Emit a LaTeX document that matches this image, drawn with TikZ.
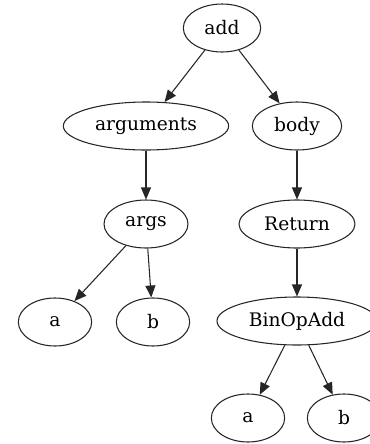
\documentclass[tikz,border=0pt]{standalone}
\usepackage{fontspec}
\setmainfont{DejaVu Serif}
\usetikzlibrary{shapes.geometric,arrows.meta}
\begin{document}
\begin{tikzpicture}[x=0.75pt,y=-0.75pt,
  tnode/.style={ellipse,draw=black!85,line width=0.8pt,inner sep=0pt,
    minimum height=36pt,font=\fontsize{14}{16}\selectfont},
  edge/.style={draw=black!85,line width=0.8pt,
    -{Triangle[length=9pt,width=7.5pt]}}]
\clip (0,0) rectangle (370,444);
\node[tnode,minimum width=58pt] (add) at (222,28) {add};
\node[tnode,minimum width=124pt] (arguments) at (146,126) {arguments};
\node[tnode,minimum width=67pt] (body) at (297,126) {body};
\node[tnode,minimum width=63pt] (args) at (146,224) {args};
\node[tnode,minimum width=87pt] (return) at (297,224) {Return};
\node[tnode,minimum width=55pt] (a1) at (55,322) {a};
\node[tnode,minimum width=55pt] (b1) at (153,322) {b};
\node[tnode,minimum width=120pt] (binop) at (297,321) {BinOpAdd};
\node[tnode,minimum width=55pt] (a2) at (248,418) {a};
\node[tnode,minimum width=55pt] (b2) at (344,418) {b};
\draw[edge] (add) -- (arguments);
\draw[edge] (add) -- (body);
\draw[edge] (arguments) -- (args);
\draw[edge] (body) -- (return);
\draw[edge] (args) -- (a1);
\draw[edge] (args) -- (b1);
\draw[edge] (return) -- (binop);
\draw[edge] (binop) -- (a2);
\draw[edge] (binop) -- (b2);
\end{tikzpicture}
\end{document}
